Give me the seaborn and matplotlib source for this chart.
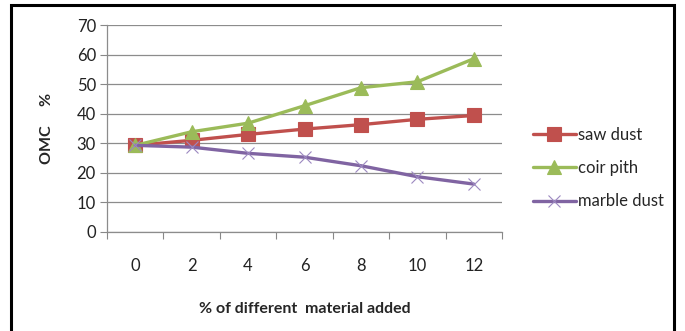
import matplotlib
matplotlib.use("Agg")
import matplotlib.pyplot as plt
import seaborn as sns
import pandas as pd
from matplotlib.patches import Rectangle

categories = ["0", "2", "4", "6", "8", "10", "12"]
saw_dust = [29.3, 31.0, 33.0, 34.8, 36.3, 38.1, 39.4]
coir_pith = [29.3, 33.9, 36.8, 42.7, 48.8, 50.8, 58.6]
marble_dust = [29.3, 28.7, 26.6, 25.3, 22.4, 18.7, 16.2]
series_names = ["saw dust", "coir pith", "marble dust"]

sns.set_theme(style="white")
plt.rcParams['font.family'] = ['Lato', 'DejaVu Sans']

palette = {"saw dust": "#C0504D", "coir pith": "#9BBB59", "marble dust": "#8064A2"}
markers = {"saw dust": "s", "coir pith": "^", "marble dust": "x"}

fig = plt.figure(figsize=(6.85, 3.31), dpi=100)
ax = fig.add_axes([107/685, 1-232/331, (502-107)/685, (232-25)/331])

for name, vals in zip(series_names, [saw_dust, coir_pith, marble_dust]):
    d = pd.DataFrame({"pos": list(range(len(vals))), "value": vals})
    mk = markers[name]
    if mk == "x":
        sns.lineplot(data=d, x="pos", y="value", ax=ax, color=palette[name],
                     linewidth=2.4, marker="x", markersize=9,
                     markeredgecolor="#9C88C0", markeredgewidth=0.8, label=name)
    else:
        sns.lineplot(data=d, x="pos", y="value", ax=ax, color=palette[name],
                     linewidth=2.4, marker=mk, markersize=9.5,
                     markeredgecolor=palette[name], markeredgewidth=0.8, label=name)

ax.set_xlim(-0.5, 6.5)
ax.set_ylim(0, 70)
ax.set_yticks(range(0, 71, 10))
ax.set_xticks(range(len(categories)))
ax.set_xticklabels(categories)
ax.set_xticks([i - 0.5 for i in range(len(categories) + 1)], minor=True)
ax.tick_params(axis="x", which="major", length=0, pad=19, labelsize=12)
ax.tick_params(axis="x", which="minor", length=5, width=0.8, color="#888888", direction="out", bottom=True)
ax.tick_params(axis="y", length=5, width=0.8, color="#888888", direction="out", left=True, labelsize=12, pad=3)
for lab in ax.get_xticklabels() + ax.get_yticklabels():
    lab.set_color("#222222")
ax.grid(axis="y", color="#8c8c8c", linewidth=0.9)
ax.set_axisbelow(True)
for s in ["top", "right"]:
    ax.spines[s].set_visible(False)
for s in ["left", "bottom"]:
    ax.spines[s].set_color("#8c8c8c")
    ax.spines[s].set_linewidth(0.9)

ax.set_xlabel("% of different  material added", fontsize=11.5, fontweight="bold", labelpad=20)
ax.set_ylabel("OMC     %", fontsize=11.5, fontweight="bold", labelpad=16)

handles, labels = ax.get_legend_handles_labels()
ax.legend(handles, labels, loc="center left", bbox_to_anchor=(526/685, 1-168/331),
          bbox_transform=fig.transFigure, frameon=False, fontsize=12,
          handlelength=2.6, handletextpad=0.1, labelspacing=1.05, borderaxespad=0)

fig.patches.append(Rectangle((11/685, -0.05), (674-11)/685, 1.05 - 5/331,
                             transform=fig.transFigure, fill=False,
                             edgecolor="black", linewidth=2.2, figure=fig))

fig.savefig("out.png", dpi=100)
